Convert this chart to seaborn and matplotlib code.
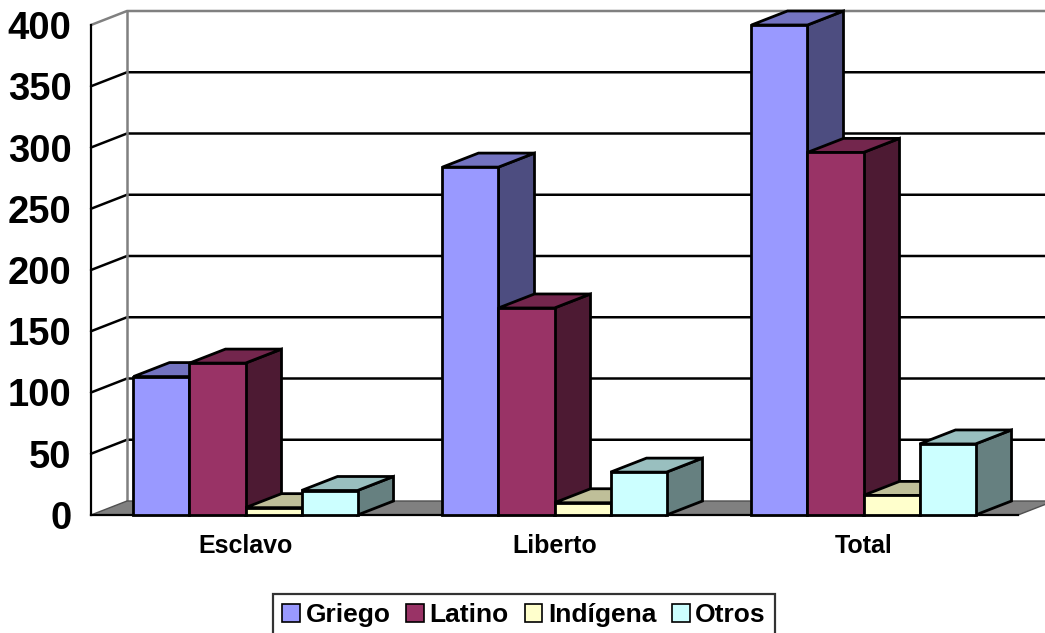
import numpy as np
import pandas as pd
import matplotlib.pyplot as plt
import matplotlib.colors as mcolors
import seaborn as sns
from matplotlib.patches import Polygon, Patch

categories = ["Esclavo", "Liberto", "Total"]
series = ["Griego", "Latino", "Indígena", "Otros"]
griego = [113, 284, 400]
latino = [124, 169, 296]
indigena = [6, 10, 16]
otros = [20, 35, 58]
yticks = [0, 50, 100, 150, 200, 250, 300, 350, 400]

front_colors = ["#9999FF", "#993366", "#FFFFCC", "#CCFFFF"]
top_colors = ["#7373C0", "#73264D", "#BFBF99", "#99BFBF"]
side_colors = ["#4D4D80", "#4D1A33", "#808066", "#668080"]

sns.set_style("white")
plt.rcParams['font.family'] = ['Liberation Sans', 'DejaVu Sans']
plt.rcParams['font.weight'] = 'bold'
plt.rcParams['text.color'] = 'black'
plt.rcParams['xtick.color'] = 'black'
plt.rcParams['ytick.color'] = 'black'
plt.rcParams['axes.labelcolor'] = 'black'

df = pd.DataFrame({
    "Grupo": categories * 4,
    "Serie": sum([[s] * 3 for s in series], []),
    "Valor": griego + latino + indigena + otros,
})

W, H = 1045, 633
fig = plt.figure(figsize=(W / 100, H / 100), dpi=100)
ax = fig.add_axes([91 / W, 118 / H, 927 / W, 490 / H])

lw = 2.0
sns.barplot(data=df, x="Grupo", y="Valor", hue="Serie", order=categories,
            hue_order=series, palette=front_colors, width=0.725, gap=0,
            edgecolor="black", linewidth=lw, legend=False, ax=ax,
            saturation=1, errorbar=None)

ax.set_xlim(-0.5, 2.5)
ax.set_ylim(0, 400)

# depth offset of the 3D look, in data units (36 px right, 14 px up)
ddx = 36 / 309
ddy = 14 / 1.225
x0, x1 = -0.5, 2.5

# back wall gridlines
for v in yticks[1:]:
    col = "#808080" if v == 400 else "black"
    ax.plot([x0, x0 + ddx, x1 + ddx], [v, v + ddy, v + ddy], color=col,
            lw=1.8, clip_on=False, zorder=1, solid_joinstyle="miter")
ax.plot([x0 + ddx, x0 + ddx], [ddy, 400 + ddy], color="#808080", lw=1.8,
        clip_on=False, zorder=1)
floor = Polygon([(x0, 0), (x0 + ddx, ddy), (x1 + ddx, ddy), (x1, 0)],
                closed=True, facecolor="#808080", edgecolor="#505050",
                lw=1.0, clip_on=False, zorder=2)
ax.add_patch(floor)

# give every bar a top and a side face
bars = sorted([p for p in ax.patches if p is not floor], key=lambda p: p.get_x())
for rank, p in enumerate(bars):
    fc = mcolors.to_hex(p.get_facecolor())
    k = [c.lower() for c in front_colors].index(fc.lower())
    x, w, h = p.get_x(), p.get_width(), p.get_height()
    z = 10 + 3 * rank
    side = Polygon([(x + w, 0), (x + w + ddx, ddy), (x + w + ddx, h + ddy), (x + w, h)],
                   closed=True, facecolor=side_colors[k], edgecolor="black",
                   lw=lw, clip_on=False, zorder=z)
    top = Polygon([(x, h), (x + ddx, h + ddy), (x + w + ddx, h + ddy), (x + w, h)],
                  closed=True, facecolor=top_colors[k], edgecolor="black",
                  lw=lw, clip_on=False, zorder=z + 1)
    ax.add_patch(side)
    ax.add_patch(top)
    p.set_zorder(z + 2)
    p.set_clip_on(False)

for s in ["top", "right"]:
    ax.spines[s].set_visible(False)
for s in ["left", "bottom"]:
    ax.spines[s].set_linewidth(1.6)
    ax.spines[s].set_color("black")
    ax.spines[s].set_zorder(5)

ax.set_yticks(yticks)
ax.set_yticklabels([str(v) for v in yticks], fontsize=27.5, fontweight="bold")
ax.tick_params(axis="y", direction="out", length=6, width=1.6, pad=8, color="black")

ax.set_xticks([-0.5, 0.5, 1.5, 2.5])
ax.set_xticklabels([])
ax.set_xticks([0, 1, 2], minor=True)
ax.set_xticklabels(categories, minor=True, fontsize=18, fontweight="bold")
ax.tick_params(axis="x", which="major", direction="out", length=5, width=1.6, color="black")
ax.tick_params(axis="x", which="minor", length=0, pad=14)
ax.set_xlabel("")
ax.set_ylabel("")

handles = [Patch(facecolor=c, edgecolor="black", lw=1.2) for c in front_colors]
leg = fig.legend(handles, series, loc="upper center", bbox_to_anchor=(524 / W, 1 - 594 / H),
                 ncol=4, frameon=True, fancybox=False, prop={"size": 19, "weight": "bold"},
                 handlelength=0.68, handleheight=0.68, handletextpad=0.2,
                 columnspacing=0.6, borderpad=0.35, borderaxespad=0)
leg.get_frame().set_edgecolor("black")
leg.get_frame().set_linewidth(1.6)

fig.savefig("out.png", dpi=100)
